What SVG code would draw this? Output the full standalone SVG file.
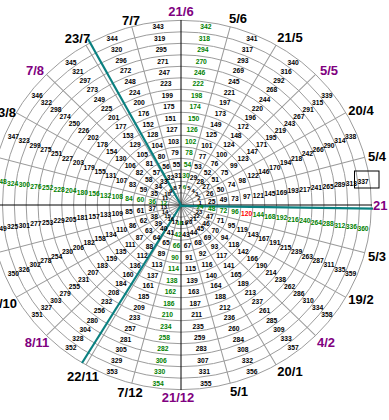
<svg xmlns="http://www.w3.org/2000/svg" width="389" height="420" viewBox="0 0 389 420">
<style>
.grid circle{fill:none;stroke:#9a9a9a;stroke-width:1}
.grid line{stroke:#9a9a9a;stroke-width:1}
.ax{stroke:#000;stroke-width:1}
.teal{stroke:#0a8080;stroke-width:2.2}
.num text{font-family:"Liberation Sans",Arial,sans-serif;font-size:6.8px;font-weight:bold;text-anchor:middle;dominant-baseline:central;fill:#000}
.num text.s{font-size:6px}
.num .g text{fill:#008000}
.num .g text.r{fill:#ff0000}
.lbl text{font-family:"Liberation Sans",Arial,sans-serif;font-size:13px;font-weight:bold;text-anchor:middle;fill:#000}
.lbl text.p{fill:#800080}
.lbl text.e{text-anchor:end}
.lbl text.st{text-anchor:start}
</style>
<rect width="389" height="420" fill="#fff"/>
<g id="grid" class="grid" transform="translate(181,205) scale(1,0.97)">
<circle r="12.6"/><circle r="24.45"/><circle r="36.3"/><circle r="48.15"/><circle r="60"/><circle r="71.85"/><circle r="83.7"/><circle r="95.55"/><circle r="107.4"/><circle r="119.25"/><circle r="131.1"/><circle r="142.95"/><circle r="154.8"/><circle r="166.65"/><circle r="178.5"/><circle r="190.35"/>
<line x2="190.35" transform="rotate(-15)"/><line x2="190.35" transform="rotate(-30)"/><line x2="190.35" transform="rotate(-45)"/><line x2="190.35" transform="rotate(-60)"/><line x2="190.35" transform="rotate(-75)"/><line x2="190.35" transform="rotate(-105)"/><line x2="190.35" transform="rotate(-120)"/><line x2="190.35" transform="rotate(-135)"/><line x2="190.35" transform="rotate(-150)"/><line x2="190.35" transform="rotate(-165)"/><line x2="190.35" transform="rotate(-195)"/><line x2="190.35" transform="rotate(-210)"/><line x2="190.35" transform="rotate(-225)"/><line x2="190.35" transform="rotate(-240)"/><line x2="190.35" transform="rotate(-255)"/><line x2="190.35" transform="rotate(-285)"/><line x2="190.35" transform="rotate(-300)"/><line x2="190.35" transform="rotate(-315)"/><line x2="190.35" transform="rotate(-330)"/><line x2="190.35" transform="rotate(-345)"/>
</g>
<g id="connectors">
<line class="ax" x1="0" y1="205" x2="372" y2="205"/>
<line class="ax" x1="181" y1="20" x2="181" y2="390"/>
<line class="teal" x1="181" y1="205" x2="88" y2="39"/>
<line class="teal" x1="181" y1="205" x2="82" y2="363"/>
<line class="teal" x1="181" y1="205.8" x2="373" y2="208.6"/>
</g>
<g id="days" class="num" transform="translate(182,205) scale(0.99,0.975)">
<g transform="rotate(-7.5)"><text class="s" transform="translate(18.5) rotate(7.5)">1</text><text transform="translate(30.4) rotate(7.5)">25</text><text transform="translate(42.2) rotate(7.5)">49</text><text transform="translate(54) rotate(7.5)">73</text><text transform="translate(65.9) rotate(7.5)">97</text><text transform="translate(77.8) rotate(7.5)">121</text><text transform="translate(89.6) rotate(7.5)">145</text><text transform="translate(101.5) rotate(7.5)">169</text><text transform="translate(113.3) rotate(7.5)">193</text><text transform="translate(125.2) rotate(7.5)">217</text><text transform="translate(137) rotate(7.5)">241</text><text transform="translate(148.9) rotate(7.5)">265</text><text transform="translate(160.7) rotate(7.5)">289</text><text transform="translate(172.6) rotate(7.5)">313</text><text transform="translate(184.4) rotate(7.5)">337</text></g>
<g transform="rotate(-22.5)"><text class="s" transform="translate(18.5) rotate(22.5)">2</text><text transform="translate(30.4) rotate(22.5)">26</text><text transform="translate(42.2) rotate(22.5)">50</text><text transform="translate(54) rotate(22.5)">74</text><text transform="translate(65.9) rotate(22.5)">98</text><text transform="translate(77.8) rotate(22.5)">122</text><text transform="translate(89.6) rotate(22.5)">146</text><text transform="translate(101.5) rotate(22.5)">170</text><text transform="translate(113.3) rotate(22.5)">194</text><text transform="translate(125.2) rotate(22.5)">218</text><text transform="translate(137) rotate(22.5)">242</text><text transform="translate(148.9) rotate(22.5)">266</text><text transform="translate(160.7) rotate(22.5)">290</text><text transform="translate(172.6) rotate(22.5)">314</text><text transform="translate(184.4) rotate(22.5)">338</text></g>
<g transform="rotate(-37.5)"><text class="s" transform="translate(18.5) rotate(37.5)">3</text><text transform="translate(30.4) rotate(37.5)">27</text><text transform="translate(42.2) rotate(37.5)">51</text><text transform="translate(54) rotate(37.5)">75</text><text transform="translate(65.9) rotate(37.5)">99</text><text transform="translate(77.8) rotate(37.5)">123</text><text transform="translate(89.6) rotate(37.5)">147</text><text transform="translate(101.5) rotate(37.5)">171</text><text transform="translate(113.3) rotate(37.5)">195</text><text transform="translate(125.2) rotate(37.5)">219</text><text transform="translate(137) rotate(37.5)">243</text><text transform="translate(148.9) rotate(37.5)">267</text><text transform="translate(160.7) rotate(37.5)">291</text><text transform="translate(172.6) rotate(37.5)">315</text><text transform="translate(184.4) rotate(37.5)">339</text></g>
<g transform="rotate(-52.5)"><text class="s" transform="translate(18.5) rotate(52.5)">4</text><text transform="translate(30.4) rotate(52.5)">28</text><text transform="translate(42.2) rotate(52.5)">52</text><text transform="translate(54) rotate(52.5)">76</text><text transform="translate(65.9) rotate(52.5)">100</text><text transform="translate(77.8) rotate(52.5)">124</text><text transform="translate(89.6) rotate(52.5)">148</text><text transform="translate(101.5) rotate(52.5)">172</text><text transform="translate(113.3) rotate(52.5)">196</text><text transform="translate(125.2) rotate(52.5)">220</text><text transform="translate(137) rotate(52.5)">244</text><text transform="translate(148.9) rotate(52.5)">268</text><text transform="translate(160.7) rotate(52.5)">292</text><text transform="translate(172.6) rotate(52.5)">316</text><text transform="translate(184.4) rotate(52.5)">340</text></g>
<g transform="rotate(-67.5)"><text class="s" transform="translate(18.5) rotate(67.5)">5</text><text transform="translate(30.4) rotate(67.5)">29</text><text transform="translate(42.2) rotate(67.5)">53</text><text transform="translate(54) rotate(67.5)">77</text><text transform="translate(65.9) rotate(67.5)">101</text><text transform="translate(77.8) rotate(67.5)">125</text><text transform="translate(89.6) rotate(67.5)">149</text><text transform="translate(101.5) rotate(67.5)">173</text><text transform="translate(113.3) rotate(67.5)">197</text><text transform="translate(125.2) rotate(67.5)">221</text><text transform="translate(137) rotate(67.5)">245</text><text transform="translate(148.9) rotate(67.5)">269</text><text transform="translate(160.7) rotate(67.5)">293</text><text transform="translate(172.6) rotate(67.5)">317</text><text transform="translate(184.4) rotate(67.5)">341</text></g>
<g class="g" transform="rotate(-82.5)"><text class="s" transform="translate(18.5) rotate(82.5)">6</text><text transform="translate(30.4) rotate(82.5)">30</text><text transform="translate(42.2) rotate(82.5)">54</text><text transform="translate(54) rotate(82.5)">78</text><text transform="translate(65.9) rotate(82.5)">102</text><text transform="translate(77.8) rotate(82.5)">126</text><text transform="translate(89.6) rotate(82.5)">150</text><text transform="translate(101.5) rotate(82.5)">174</text><text transform="translate(113.3) rotate(82.5)">198</text><text transform="translate(125.2) rotate(82.5)">222</text><text transform="translate(137) rotate(82.5)">246</text><text transform="translate(148.9) rotate(82.5)">270</text><text transform="translate(160.7) rotate(82.5)">294</text><text transform="translate(172.6) rotate(82.5)">318</text><text transform="translate(184.4) rotate(82.5)">342</text></g>
<g transform="rotate(-97.5)"><text class="s" transform="translate(18.5) rotate(97.5)">7</text><text transform="translate(30.4) rotate(97.5)">31</text><text transform="translate(42.2) rotate(97.5)">55</text><text transform="translate(54) rotate(97.5)">79</text><text transform="translate(65.9) rotate(97.5)">103</text><text transform="translate(77.8) rotate(97.5)">127</text><text transform="translate(89.6) rotate(97.5)">151</text><text transform="translate(101.5) rotate(97.5)">175</text><text transform="translate(113.3) rotate(97.5)">199</text><text transform="translate(125.2) rotate(97.5)">223</text><text transform="translate(137) rotate(97.5)">247</text><text transform="translate(148.9) rotate(97.5)">271</text><text transform="translate(160.7) rotate(97.5)">295</text><text transform="translate(172.6) rotate(97.5)">319</text><text transform="translate(184.4) rotate(97.5)">343</text></g>
<g transform="rotate(-112.5)"><text class="s" transform="translate(18.5) rotate(112.5)">8</text><text transform="translate(30.4) rotate(112.5)">32</text><text transform="translate(42.2) rotate(112.5)">56</text><text transform="translate(54) rotate(112.5)">80</text><text transform="translate(65.9) rotate(112.5)">104</text><text transform="translate(77.8) rotate(112.5)">128</text><text transform="translate(89.6) rotate(112.5)">152</text><text transform="translate(101.5) rotate(112.5)">176</text><text transform="translate(113.3) rotate(112.5)">200</text><text transform="translate(125.2) rotate(112.5)">224</text><text transform="translate(137) rotate(112.5)">248</text><text transform="translate(148.9) rotate(112.5)">272</text><text transform="translate(160.7) rotate(112.5)">296</text><text transform="translate(172.6) rotate(112.5)">320</text><text transform="translate(184.4) rotate(112.5)">344</text></g>
<g transform="rotate(-127.5)"><text class="s" transform="translate(18.5) rotate(127.5)">9</text><text transform="translate(30.4) rotate(127.5)">33</text><text transform="translate(42.2) rotate(127.5)">57</text><text transform="translate(54) rotate(127.5)">81</text><text transform="translate(65.9) rotate(127.5)">105</text><text transform="translate(77.8) rotate(127.5)">129</text><text transform="translate(89.6) rotate(127.5)">153</text><text transform="translate(101.5) rotate(127.5)">177</text><text transform="translate(113.3) rotate(127.5)">201</text><text transform="translate(125.2) rotate(127.5)">225</text><text transform="translate(137) rotate(127.5)">249</text><text transform="translate(148.9) rotate(127.5)">273</text><text transform="translate(160.7) rotate(127.5)">297</text><text transform="translate(172.6) rotate(127.5)">321</text><text transform="translate(184.4) rotate(127.5)">345</text></g>
<g transform="rotate(-142.5)"><text class="s" transform="translate(18.5) rotate(142.5)">10</text><text transform="translate(30.4) rotate(142.5)">34</text><text transform="translate(42.2) rotate(142.5)">58</text><text transform="translate(54) rotate(142.5)">82</text><text transform="translate(65.9) rotate(142.5)">106</text><text transform="translate(77.8) rotate(142.5)">130</text><text transform="translate(89.6) rotate(142.5)">154</text><text transform="translate(101.5) rotate(142.5)">178</text><text transform="translate(113.3) rotate(142.5)">202</text><text transform="translate(125.2) rotate(142.5)">226</text><text transform="translate(137) rotate(142.5)">250</text><text transform="translate(148.9) rotate(142.5)">274</text><text transform="translate(160.7) rotate(142.5)">298</text><text transform="translate(172.6) rotate(142.5)">322</text><text transform="translate(184.4) rotate(142.5)">346</text></g>
<g transform="rotate(-157.5)"><text class="s" transform="translate(18.5) rotate(157.5)">11</text><text transform="translate(30.4) rotate(157.5)">35</text><text transform="translate(42.2) rotate(157.5)">59</text><text transform="translate(54) rotate(157.5)">83</text><text transform="translate(65.9) rotate(157.5)">107</text><text transform="translate(77.8) rotate(157.5)">131</text><text transform="translate(89.6) rotate(157.5)">155</text><text transform="translate(101.5) rotate(157.5)">179</text><text transform="translate(113.3) rotate(157.5)">203</text><text transform="translate(125.2) rotate(157.5)">227</text><text transform="translate(137) rotate(157.5)">251</text><text transform="translate(148.9) rotate(157.5)">275</text><text transform="translate(160.7) rotate(157.5)">299</text><text transform="translate(172.6) rotate(157.5)">323</text><text transform="translate(184.4) rotate(157.5)">347</text></g>
<g class="g" transform="rotate(-172.5)"><text class="s" transform="translate(18.5) rotate(172.5)">12</text><text transform="translate(30.4) rotate(172.5)">36</text><text transform="translate(42.2) rotate(172.5)">60</text><text transform="translate(54) rotate(172.5)">84</text><text transform="translate(65.9) rotate(172.5)">108</text><text transform="translate(77.8) rotate(172.5)">132</text><text transform="translate(89.6) rotate(172.5)">156</text><text transform="translate(101.5) rotate(172.5)">180</text><text transform="translate(113.3) rotate(172.5)">204</text><text transform="translate(125.2) rotate(172.5)">228</text><text transform="translate(137) rotate(172.5)">252</text><text transform="translate(148.9) rotate(172.5)">276</text><text transform="translate(160.7) rotate(172.5)">300</text><text transform="translate(172.6) rotate(172.5)">324</text><text transform="translate(184.4) rotate(172.5)">348</text></g>
<g transform="rotate(-187.5)"><text class="s" transform="translate(18.5) rotate(187.5)">13</text><text transform="translate(30.4) rotate(187.5)">37</text><text transform="translate(42.2) rotate(187.5)">61</text><text transform="translate(54) rotate(187.5)">85</text><text transform="translate(65.9) rotate(187.5)">109</text><text transform="translate(77.8) rotate(187.5)">133</text><text transform="translate(89.6) rotate(187.5)">157</text><text transform="translate(101.5) rotate(187.5)">181</text><text transform="translate(113.3) rotate(187.5)">205</text><text transform="translate(125.2) rotate(187.5)">229</text><text transform="translate(137) rotate(187.5)">253</text><text transform="translate(148.9) rotate(187.5)">277</text><text transform="translate(160.7) rotate(187.5)">301</text><text transform="translate(172.6) rotate(187.5)">325</text><text transform="translate(184.4) rotate(187.5)">349</text></g>
<g transform="rotate(-202.5)"><text class="s" transform="translate(18.5) rotate(202.5)">14</text><text transform="translate(30.4) rotate(202.5)">38</text><text transform="translate(42.2) rotate(202.5)">62</text><text transform="translate(54) rotate(202.5)">86</text><text transform="translate(65.9) rotate(202.5)">110</text><text transform="translate(77.8) rotate(202.5)">134</text><text transform="translate(89.6) rotate(202.5)">158</text><text transform="translate(101.5) rotate(202.5)">182</text><text transform="translate(113.3) rotate(202.5)">206</text><text transform="translate(125.2) rotate(202.5)">230</text><text transform="translate(137) rotate(202.5)">254</text><text transform="translate(148.9) rotate(202.5)">278</text><text transform="translate(160.7) rotate(202.5)">302</text><text transform="translate(172.6) rotate(202.5)">326</text><text transform="translate(184.4) rotate(202.5)">350</text></g>
<g transform="rotate(-217.5)"><text class="s" transform="translate(18.5) rotate(217.5)">15</text><text transform="translate(30.4) rotate(217.5)">39</text><text transform="translate(42.2) rotate(217.5)">63</text><text transform="translate(54) rotate(217.5)">87</text><text transform="translate(65.9) rotate(217.5)">111</text><text transform="translate(77.8) rotate(217.5)">135</text><text transform="translate(89.6) rotate(217.5)">159</text><text transform="translate(101.5) rotate(217.5)">183</text><text transform="translate(113.3) rotate(217.5)">207</text><text transform="translate(125.2) rotate(217.5)">231</text><text transform="translate(137) rotate(217.5)">255</text><text transform="translate(148.9) rotate(217.5)">279</text><text transform="translate(160.7) rotate(217.5)">303</text><text transform="translate(172.6) rotate(217.5)">327</text><text transform="translate(184.4) rotate(217.5)">351</text></g>
<g transform="rotate(-232.5)"><text class="s" transform="translate(18.5) rotate(232.5)">16</text><text transform="translate(30.4) rotate(232.5)">40</text><text transform="translate(42.2) rotate(232.5)">64</text><text transform="translate(54) rotate(232.5)">88</text><text transform="translate(65.9) rotate(232.5)">112</text><text transform="translate(77.8) rotate(232.5)">136</text><text transform="translate(89.6) rotate(232.5)">160</text><text transform="translate(101.5) rotate(232.5)">184</text><text transform="translate(113.3) rotate(232.5)">208</text><text transform="translate(125.2) rotate(232.5)">232</text><text transform="translate(137) rotate(232.5)">256</text><text transform="translate(148.9) rotate(232.5)">280</text><text transform="translate(160.7) rotate(232.5)">304</text><text transform="translate(172.6) rotate(232.5)">328</text><text transform="translate(184.4) rotate(232.5)">352</text></g>
<g transform="rotate(-247.5)"><text class="s" transform="translate(18.5) rotate(247.5)">17</text><text transform="translate(30.4) rotate(247.5)">41</text><text transform="translate(42.2) rotate(247.5)">65</text><text transform="translate(54) rotate(247.5)">89</text><text transform="translate(65.9) rotate(247.5)">113</text><text transform="translate(77.8) rotate(247.5)">137</text><text transform="translate(89.6) rotate(247.5)">161</text><text transform="translate(101.5) rotate(247.5)">185</text><text transform="translate(113.3) rotate(247.5)">209</text><text transform="translate(125.2) rotate(247.5)">233</text><text transform="translate(137) rotate(247.5)">257</text><text transform="translate(148.9) rotate(247.5)">281</text><text transform="translate(160.7) rotate(247.5)">305</text><text transform="translate(172.6) rotate(247.5)">329</text><text transform="translate(184.4) rotate(247.5)">353</text></g>
<g class="g" transform="rotate(-262.5)"><text class="s" transform="translate(18.5) rotate(262.5)">18</text><text transform="translate(30.4) rotate(262.5)">42</text><text transform="translate(42.2) rotate(262.5)">66</text><text transform="translate(54) rotate(262.5)">90</text><text transform="translate(65.9) rotate(262.5)">114</text><text transform="translate(77.8) rotate(262.5)">138</text><text transform="translate(89.6) rotate(262.5)">162</text><text transform="translate(101.5) rotate(262.5)">186</text><text transform="translate(113.3) rotate(262.5)">210</text><text transform="translate(125.2) rotate(262.5)">234</text><text transform="translate(137) rotate(262.5)">258</text><text transform="translate(148.9) rotate(262.5)">282</text><text transform="translate(160.7) rotate(262.5)">306</text><text transform="translate(172.6) rotate(262.5)">330</text><text transform="translate(184.4) rotate(262.5)">354</text></g>
<g transform="rotate(-277.5)"><text class="s" transform="translate(18.5) rotate(277.5)">19</text><text transform="translate(30.4) rotate(277.5)">43</text><text transform="translate(42.2) rotate(277.5)">67</text><text transform="translate(54) rotate(277.5)">91</text><text transform="translate(65.9) rotate(277.5)">115</text><text transform="translate(77.8) rotate(277.5)">139</text><text transform="translate(89.6) rotate(277.5)">163</text><text transform="translate(101.5) rotate(277.5)">187</text><text transform="translate(113.3) rotate(277.5)">211</text><text transform="translate(125.2) rotate(277.5)">235</text><text transform="translate(137) rotate(277.5)">259</text><text transform="translate(148.9) rotate(277.5)">283</text><text transform="translate(160.7) rotate(277.5)">307</text><text transform="translate(172.6) rotate(277.5)">331</text><text transform="translate(184.4) rotate(277.5)">355</text></g>
<g transform="rotate(-292.5)"><text class="s" transform="translate(18.5) rotate(292.5)">20</text><text transform="translate(30.4) rotate(292.5)">44</text><text transform="translate(42.2) rotate(292.5)">68</text><text transform="translate(54) rotate(292.5)">92</text><text transform="translate(65.9) rotate(292.5)">116</text><text transform="translate(77.8) rotate(292.5)">140</text><text transform="translate(89.6) rotate(292.5)">164</text><text transform="translate(101.5) rotate(292.5)">188</text><text transform="translate(113.3) rotate(292.5)">212</text><text transform="translate(125.2) rotate(292.5)">236</text><text transform="translate(137) rotate(292.5)">260</text><text transform="translate(148.9) rotate(292.5)">284</text><text transform="translate(160.7) rotate(292.5)">308</text><text transform="translate(172.6) rotate(292.5)">332</text><text transform="translate(184.4) rotate(292.5)">356</text></g>
<g transform="rotate(-307.5)"><text class="s" transform="translate(18.5) rotate(307.5)">21</text><text transform="translate(30.4) rotate(307.5)">45</text><text transform="translate(42.2) rotate(307.5)">69</text><text transform="translate(54) rotate(307.5)">93</text><text transform="translate(65.9) rotate(307.5)">117</text><text transform="translate(77.8) rotate(307.5)">141</text><text transform="translate(89.6) rotate(307.5)">165</text><text transform="translate(101.5) rotate(307.5)">189</text><text transform="translate(113.3) rotate(307.5)">213</text><text transform="translate(125.2) rotate(307.5)">237</text><text transform="translate(137) rotate(307.5)">261</text><text transform="translate(148.9) rotate(307.5)">285</text><text transform="translate(160.7) rotate(307.5)">309</text><text transform="translate(172.6) rotate(307.5)">333</text><text transform="translate(184.4) rotate(307.5)">357</text></g>
<g transform="rotate(-322.5)"><text class="s" transform="translate(18.5) rotate(322.5)">22</text><text transform="translate(30.4) rotate(322.5)">46</text><text transform="translate(42.2) rotate(322.5)">70</text><text transform="translate(54) rotate(322.5)">94</text><text transform="translate(65.9) rotate(322.5)">118</text><text transform="translate(77.8) rotate(322.5)">142</text><text transform="translate(89.6) rotate(322.5)">166</text><text transform="translate(101.5) rotate(322.5)">190</text><text transform="translate(113.3) rotate(322.5)">214</text><text transform="translate(125.2) rotate(322.5)">238</text><text transform="translate(137) rotate(322.5)">262</text><text transform="translate(148.9) rotate(322.5)">286</text><text transform="translate(160.7) rotate(322.5)">310</text><text transform="translate(172.6) rotate(322.5)">334</text><text transform="translate(184.4) rotate(322.5)">358</text></g>
<g transform="rotate(-337.5)"><text class="s" transform="translate(18.5) rotate(337.5)">23</text><text transform="translate(30.4) rotate(337.5)">47</text><text transform="translate(42.2) rotate(337.5)">71</text><text transform="translate(54) rotate(337.5)">95</text><text transform="translate(65.9) rotate(337.5)">119</text><text transform="translate(77.8) rotate(337.5)">143</text><text transform="translate(89.6) rotate(337.5)">167</text><text transform="translate(101.5) rotate(337.5)">191</text><text transform="translate(113.3) rotate(337.5)">215</text><text transform="translate(125.2) rotate(337.5)">239</text><text transform="translate(137) rotate(337.5)">263</text><text transform="translate(148.9) rotate(337.5)">287</text><text transform="translate(160.7) rotate(337.5)">311</text><text transform="translate(172.6) rotate(337.5)">335</text><text transform="translate(184.4) rotate(337.5)">359</text></g>
<g class="g" transform="rotate(-352.5)"><text class="s" transform="translate(18.5) rotate(352.5)">24</text><text transform="translate(30.4) rotate(352.5)">48</text><text transform="translate(42.2) rotate(352.5)">72</text><text transform="translate(54) rotate(352.5)">96</text><text class="r" transform="translate(65.9) rotate(352.5)">120</text><text transform="translate(77.8) rotate(352.5)">144</text><text transform="translate(89.6) rotate(352.5)">168</text><text transform="translate(101.5) rotate(352.5)">192</text><text transform="translate(113.3) rotate(352.5)">216</text><text transform="translate(125.2) rotate(352.5)">240</text><text transform="translate(137) rotate(352.5)">264</text><text transform="translate(148.9) rotate(352.5)">288</text><text transform="translate(160.7) rotate(352.5)">312</text><text transform="translate(172.6) rotate(352.5)">336</text><text transform="translate(184.4) rotate(352.5)">360</text></g>
</g>
<rect id="today" x="354.5" y="171" width="24.5" height="17" fill="none" stroke="#000" stroke-width="1"/>
<g id="labels" class="lbl">
<text class="p" x="181" y="16">21/6</text>
<text x="131" y="25">7/7</text>
<text x="238" y="23">5/6</text>
<text x="77.5" y="43">23/7</text>
<text x="290" y="42">21/5</text>
<text class="p" x="35" y="75">7/8</text>
<text class="p" x="329" y="75">5/5</text>
<text class="e" x="16" y="117">23/8</text>
<text x="361" y="115">20/4</text>
<text x="377" y="161">5/4</text>
<text class="p st" x="373" y="210">21</text>
<text x="377" y="261">5/3</text>
<text x="361" y="304">19/2</text>
<text class="p" x="326" y="347">4/2</text>
<text x="290" y="376">20/1</text>
<text x="239" y="396">5/1</text>
<text class="p" x="178" y="402">21/12</text>
<text x="130" y="397">7/12</text>
<text x="83" y="381">22/11</text>
<text class="p" x="37" y="347">8/11</text>
<text class="e" x="17" y="308">23/10</text>
</g>
</svg>
